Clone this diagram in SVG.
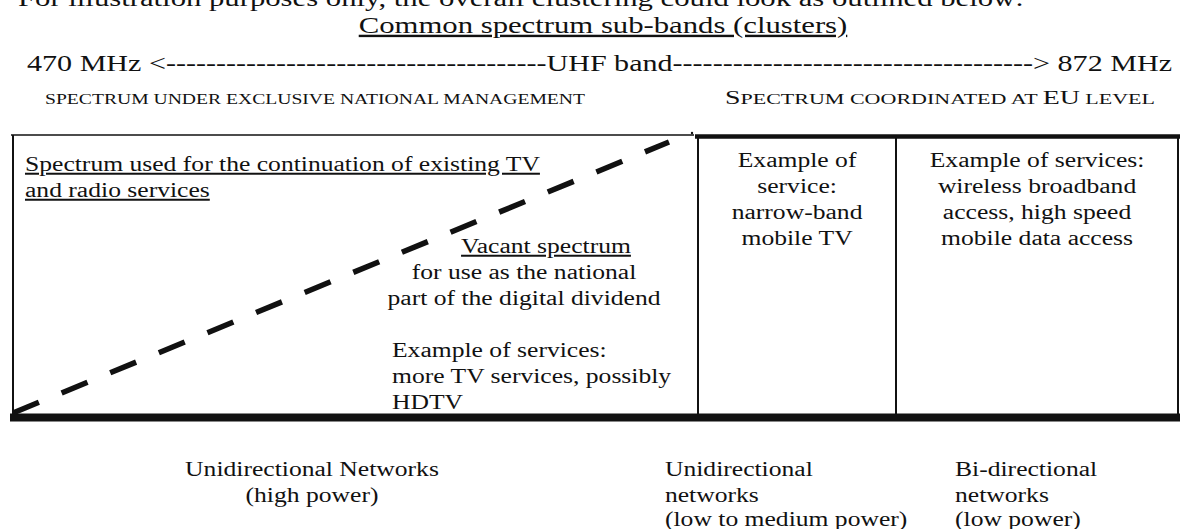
<svg xmlns="http://www.w3.org/2000/svg" width="1180" height="529" viewBox="0 0 1180 529">
  <style>
    text { font-family: "Liberation Serif", "Times New Roman", serif; fill: #111; }
    .big { font-size: 24px; }
    .sm { font-size: 20px; }
    .mid { text-anchor: middle; }
    .ul { text-decoration: underline; }
    .caps { font-size: 15px; }
    .capsL { font-size: 19px; }
    .edge { stroke: #111; fill: none; }
  </style>

  <!-- heading lines -->
  <g id="heading">
    <g transform="scale(1.28,1)">
      <text class="big" x="14.06" y="6">For illustration purposes only, the overall clustering could look as outlined below:</text>
      <text class="big mid ul" x="471.1" y="33">Common spectrum sub-bands (clusters)</text>
    </g>
    <text class="big" x="27" y="71" textLength="1145" lengthAdjust="spacingAndGlyphs">470 MHz &lt;--------------------------------------UHF band------------------------------------&gt; 872 MHz</text>
  </g>

  <!-- management captions -->
  <g id="caption-national">
    <text class="caps" x="45" y="104" textLength="540" lengthAdjust="spacingAndGlyphs">SPECTRUM UNDER EXCLUSIVE NATIONAL MANAGEMENT</text>
  </g>
  <g id="caption-eu">
    <text class="caps" x="725" y="104" textLength="430" lengthAdjust="spacingAndGlyphs"><tspan class="capsL">S</tspan>PECTRUM COORDINATED AT <tspan class="capsL">EU</tspan> LEVEL</text>
  </g>

  <!-- band frame -->
  <g id="frame">
    <line class="edge" x1="11" y1="135" x2="694" y2="135" stroke-width="1.6"/>
    <circle cx="692" cy="133" r="1.2" fill="#111"/>
    <line class="edge" x1="695" y1="136.5" x2="1180" y2="136.5" stroke-width="4.5"/>
    <line class="edge" x1="13" y1="135" x2="13" y2="418" stroke-width="2"/>
    <line class="edge" x1="1178" y1="137" x2="1178" y2="418" stroke-width="2"/>
    <line class="edge" x1="698" y1="137" x2="698" y2="418" stroke-width="2"/>
    <line class="edge" x1="896" y1="137" x2="896" y2="418" stroke-width="2"/>
    <line class="edge" x1="10" y1="417.5" x2="1180" y2="417.5" stroke-width="8"/>
  </g>

  <!-- dashed split between existing and vacant spectrum -->
  <g id="connectors">
    <line class="edge" x1="13" y1="413" x2="669" y2="142" stroke-width="5.5" stroke-dasharray="28 24.6"/>
  </g>

  <g transform="scale(1.28,1)">
    <g id="national-band">
      <text class="sm ul" x="19.53" y="171">Spectrum used for the continuation of existing TV</text>
      <text class="sm ul" x="19.53" y="197">and radio services</text>
      <text class="sm ul" x="360.2" y="253">Vacant spectrum</text>
      <text class="sm mid" x="409.4" y="279">for use as the national</text>
      <text class="sm mid" x="409.4" y="305">part of the digital dividend</text>
      <text class="sm" x="306.25" y="357">Example of services:</text>
      <text class="sm" x="306.25" y="383">more TV services, possibly</text>
      <text class="sm" x="306.25" y="409">HDTV</text>
    </g>
    <g id="mobile-tv-band">
      <text class="sm mid" x="622.7" y="167">Example of</text>
      <text class="sm mid" x="622.7" y="193">service:</text>
      <text class="sm mid" x="622.7" y="219">narrow-band</text>
      <text class="sm mid" x="622.7" y="245">mobile TV</text>
    </g>
    <g id="broadband-band">
      <text class="sm mid" x="810.2" y="167">Example of services:</text>
      <text class="sm mid" x="810.2" y="193">wireless broadband</text>
      <text class="sm mid" x="810.2" y="219">access, high speed</text>
      <text class="sm mid" x="810.2" y="245">mobile data access</text>
    </g>
    <g id="net-high">
      <text class="sm mid" x="243.75" y="476">Unidirectional Networks</text>
      <text class="sm mid" x="243.75" y="502">(high power)</text>
    </g>
    <g id="net-medium">
      <text class="sm" x="519.5" y="476">Unidirectional</text>
      <text class="sm" x="519.5" y="502">networks</text>
      <text class="sm" x="519.5" y="526">(low to medium power)</text>
    </g>
    <g id="net-low">
      <text class="sm" x="746.1" y="476">Bi-directional</text>
      <text class="sm" x="746.1" y="502">networks</text>
      <text class="sm" x="746.1" y="526">(low power)</text>
    </g>
  </g>
</svg>
